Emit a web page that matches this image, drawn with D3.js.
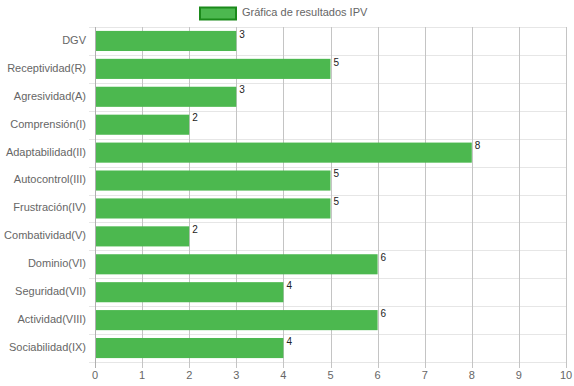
<!DOCTYPE html>
<html>
<head>
<meta charset="utf-8">
<script src="https://cdn.jsdelivr.net/npm/d3@7"></script>
<style>
  body { margin: 0; background: #fff; }
  text { font-family: "Liberation Sans", Arial, sans-serif; }
</style>
</head>
<body>
<script>
const categories = ["DGV", "Receptividad(R)", "Agresividad(A)", "Comprensión(I)", "Adaptabilidad(II)",
  "Autocontrol(III)", "Frustración(IV)", "Combatividad(V)", "Dominio(VI)", "Seguridad(VII)",
  "Actividad(VIII)", "Sociabilidad(IX)"]
const values = [3, 5, 3, 2, 8, 5, 5, 2, 6, 4, 6, 4]
const xTicks = [0, 1, 2, 3, 4, 5, 6, 7, 8, 9, 10]
const seriesName = "Gráfica de resultados IPV"

const WIDTH = 574
const HEIGHT = 386
const plotLeft = 95, plotRight = 566, plotTop = 27, plotBottom = 362

const svg = d3.select("body").append("svg")
  .attr("width", WIDTH)
  .attr("height", HEIGHT)

const x = d3.scaleLinear().domain([0, 10]).range([plotLeft, plotRight])
const y = d3.scaleBand().domain(categories).range([plotTop, plotBottom])

// horizontal grid (category boundaries)
svg.append("g").selectAll("line")
  .data(d3.range(categories.length + 1))
  .enter()
  .append("line")
  .attr("x1", plotLeft - 6)
  .attr("x2", plotRight)
  .attr("y1", i => Math.round(plotTop + i * y.step()) + 0.5)
  .attr("y2", i => Math.round(plotTop + i * y.step()) + 0.5)
  .attr("stroke", "#e6e6e6")

// vertical grid
svg.append("g").selectAll("line")
  .data(xTicks)
  .enter()
  .append("line")
  .attr("x1", d => Math.round(x(d)) + 0.5)
  .attr("x2", d => Math.round(x(d)) + 0.5)
  .attr("y1", plotTop)
  .attr("y2", plotBottom + 6)
  .attr("stroke", d => d === 0 ? "#b0b0b0" : "#c4c4c4")

// bars
const barH = y.step() * 0.72
svg.append("g").selectAll("rect")
  .data(values)
  .enter()
  .append("rect")
  .attr("x", x(0) + 1)
  .attr("y", (d, i) => y(categories[i]) + (y.step() - barH) / 2)
  .attr("width", d => x(d) - x(0) - 1)
  .attr("height", barH)
  .attr("fill", "#4cb84f")

// value labels
svg.append("g").selectAll("text")
  .data(values)
  .enter()
  .append("text")
  .attr("x", d => x(d) + 3)
  .attr("y", (d, i) => y(categories[i]) + y.step() / 2 - 6)
  .attr("dominant-baseline", "middle")
  .attr("font-size", 10)
  .attr("fill", "#222")
  .text(d => d)

// y labels
svg.append("g").selectAll("text")
  .data(categories)
  .enter()
  .append("text")
  .attr("x", plotLeft - 9)
  .attr("y", d => y(d) + y.step() / 2)
  .attr("text-anchor", "end")
  .attr("dominant-baseline", "middle")
  .attr("font-size", 11)
  .attr("fill", "#666")
  .text(d => d)

// x tick labels
svg.append("g").selectAll("text")
  .data(xTicks)
  .enter()
  .append("text")
  .attr("x", d => x(d))
  .attr("y", 376)
  .attr("text-anchor", "middle")
  .attr("dominant-baseline", "middle")
  .attr("font-size", 11)
  .attr("fill", "#666")
  .text(d => d)

// legend
svg.append("rect")
  .attr("x", 200).attr("y", 7.5)
  .attr("width", 36).attr("height", 12)
  .attr("fill", "#4cb84f")
  .attr("stroke", "#1b8a1b")
  .attr("stroke-width", 2)
svg.append("text")
  .attr("x", 242).attr("y", 13.5)
  .attr("dominant-baseline", "middle")
  .attr("font-size", 11)
  .attr("fill", "#666")
  .text(seriesName)
</script>
</body>
</html>
